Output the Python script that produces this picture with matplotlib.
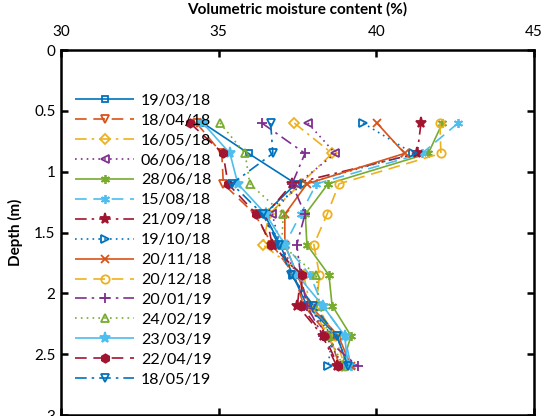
import matplotlib.pyplot as plt

plt.rcParams['font.family'] = ['Lato', 'DejaVu Sans']

# Sampling depths (m)
depth = [0.6, 0.85, 1.1, 1.35, 1.6, 1.85, 2.1, 2.35, 2.6]

# Volumetric moisture content (%) per survey date
dates = ['19/03/18', '18/04/18', '16/05/18', '06/06/18', '28/06/18',
         '15/08/18', '21/09/18', '19/10/18', '20/11/18', '20/12/18',
         '20/01/19', '24/02/19', '23/03/19', '22/04/19', '18/05/19']

vmc_190318 = [34.5, 35.95, 37.45, 36.45, 36.95, 37.35, 37.8, 38.75, 39.1]
vmc_180418 = [34.3, 35.1, 35.15, 36.15, 36.7, 37.4, 37.7, 38.5, 38.85]
vmc_160518 = [37.4, 38.6, 37.6, 36.6, 36.4, 37.7, 37.9, 38.5, 38.9]
vmc_060618 = [37.83, 38.7, 37.5, 36.7, 36.95, 37.5, 37.9, 38.4, 38.95]
vmc_280618 = [42.1, 41.65, 38.47, 37.75, 37.8, 38.5, 38.6, 39.2, 38.9]
vmc_150818 = [42.6, 41.45, 38.1, 37.6, 37.1, 37.9, 38.3, 39.0, 39.2]
vmc_210918 = [41.42, 41.3, 37.33, 36.5, 36.7, 37.6, 37.5, 38.3, 38.75]
vmc_191018 = [39.58, 41.17, 37.7, 36.4, 37.0, 37.35, 37.85, 38.6, 38.47]
vmc_201118 = [40.02, 40.9, 37.8, 37.1, 37.1, 37.5, 37.9, 38.8, 39.2]
vmc_201218 = [42.02, 42.05, 38.82, 38.44, 38.02, 38.2, 38.1, 38.7, 39.0]
vmc_200119 = [36.37, 37.74, 37.33, 37.74, 37.48, 37.6, 37.8, 38.3, 39.42]
vmc_240219 = [35.04, 35.84, 35.99, 37.05, 37.0, 38.1, 38.2, 38.5, 38.95]
vmc_230319 = [34.5, 35.36, 35.61, 36.5, 37.1, 37.5, 38.3, 39.0, 39.1]
vmc_220419 = [34.09, 35.14, 35.3, 36.2, 36.65, 37.65, 37.6, 38.35, 38.8]
vmc_180519 = [36.65, 36.72, 35.42, 36.4, 36.9, 37.3, 38.0, 38.75, 39.1]

series = [vmc_190318, vmc_180418, vmc_160518, vmc_060618, vmc_280618,
          vmc_150818, vmc_210918, vmc_191018, vmc_201118, vmc_201218,
          vmc_200119, vmc_240219, vmc_230319, vmc_220419, vmc_180519]

cols = ['#0072BD', '#D95319', '#EDB120', '#7E2F8E', '#77AC30', '#4DBEEE', '#A2142F']
dash = (7, 4)
dashdot = (7, 3, 1.5, 3)
dot = (1, 2.5)
styles = [(0, ()), (0, dash), (0, dashdot), (0, dot)]
asterisk = (6, 2, 0)
markers = ['s', 'v', 'D', '<', asterisk, asterisk, '*', '>', 'x', 'o', '+', '^', '*', 'h', 'v']
filled = {6, 12, 13}
msizes = [5, 6, 5, 6, 6.5, 6.5, 8, 6, 5.5, 6, 6.5, 6, 8, 6, 6]

fig = plt.figure(figsize=(5.47, 4.16), dpi=100)
ax = fig.add_axes([0.1115, 0.0024, 0.8645, 0.8774])

for i, (lab, vals) in enumerate(zip(dates, series)):
    c = cols[i % 7]
    ax.plot(vals, depth, color=c, linestyle=styles[i % 4], lw=1.2,
            marker=markers[i], ms=msizes[i], mew=1.3,
            mfc=c if i in filled else 'none', mec=c, label=lab)

ax.set_xlim(30, 45)
ax.set_ylim(3, 0)
ax.set_xticks([30, 35, 40, 45])
ax.set_yticks([0, 0.5, 1, 1.5, 2, 2.5, 3])
ax.set_yticklabels(['0', '0.5', '1', '1.5', '2', '2.5', '3'])
ax.xaxis.tick_top()
ax.xaxis.set_label_position('top')
ax.tick_params(direction='in', length=5, width=1.8, labelsize=11,
               top=True, bottom=True, left=True, right=True, pad=4)
ax.tick_params(axis='x', pad=8)
for s in ax.spines.values():
    s.set_linewidth(1.8)
ax.set_xlabel('Volumetric moisture content (%)', fontsize=11, fontweight='bold', labelpad=8)
ax.set_ylabel('Depth (m)', fontsize=11, fontweight='bold', labelpad=8)

ax.legend(loc='upper left', bbox_to_anchor=(0.0, 0.92), frameon=False,
          fontsize=11.5, handlelength=3.7, labelspacing=0.36, handletextpad=0.4)

fig.savefig('out.png', dpi=100)
